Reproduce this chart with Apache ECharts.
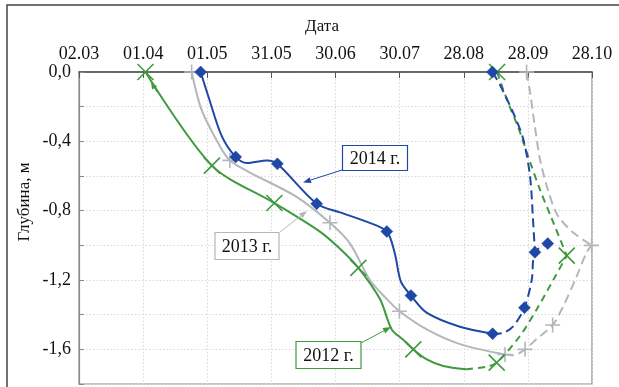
<!DOCTYPE html>
<html>
<head>
<meta charset="utf-8">
<script src="https://cdn.jsdelivr.net/npm/echarts@6/dist/echarts.min.js"></script>
<style>
  html, body { margin: 0; padding: 0; background: #fff; }
  #chart { width: 619px; height: 387px; }
</style>
</head>
<body>
<div id="chart"></div>
<script>
// X axis: days counted from 02.03, one tick every 30 days
const dateTicks = ['02.03', '01.04', '01.05', '31.05', '30.06', '30.07', '28.08', '28.09', '28.10'];
// Y axis labels for every 0.4 m
const depthTicks = ['0,0', '-0,4', '-0,8', '-1,2', '-1,6'];

// Each point: [day, depth (m), 1 = marked measurement / 0 = curve vertex]
const freeze2014 = [
  [56.9, 0, 1], [60.5, -0.14, 0], [66.8, -0.37, 0], [73.3, -0.49, 1],
  [78.5, -0.525, 0], [88.0, -0.51, 0], [92.8, -0.53, 1], [111.2, -0.76, 1],
  [122.1, -0.81, 0], [133.8, -0.86, 0], [144.0, -0.92, 1], [147.8, -1.05, 0],
  [150.6, -1.21, 0], [155.3, -1.29, 1], [162.8, -1.39, 0], [178.2, -1.47, 0],
  [193.5, -1.51, 1]
];
const thawLow2014 = [
  [193.5, -1.51, 0], [198.5, -1.505, 0], [203.2, -1.466, 0], [208.4, -1.36, 1],
  [211.8, -1.20, 0], [213.3, -1.04, 1], [219.3, -0.99, 1]
];
const thawTop2014 = [
  [193.4, 0, 1], [197.0, -0.075, 0], [204.0, -0.26, 0], [207.9, -0.39, 0],
  [211.0, -0.60, 0], [212.4, -0.85, 0], [213.3, -1.04, 0]
];

const freeze2013 = [
  [52.7, 0, 1], [57.4, -0.22, 0], [66.0, -0.43, 0], [70.6, -0.51, 1],
  [80.0, -0.58, 0], [101.8, -0.72, 0], [117.4, -0.87, 1], [126.8, -0.99, 0],
  [136.1, -1.20, 0], [144.0, -1.31, 0], [149.9, -1.38, 1], [162.7, -1.485, 0],
  [178.2, -1.57, 0], [199.3, -1.63, 1]
];
const thawLow2013 = [
  [199.3, -1.63, 0], [203.2, -1.634, 0], [208.7, -1.60, 1], [214.1, -1.54, 0],
  [221.6, -1.46, 1], [226.6, -1.35, 0], [232.8, -1.18, 0], [237.5, -1.04, 0],
  [239.8, -1.00, 1]
];
const thawTop2013 = [
  [209.4, 0, 1], [211.0, -0.115, 0], [213.3, -0.317, 0], [215.7, -0.506, 0],
  [219.4, -0.68, 0], [223.6, -0.82, 0], [230.6, -0.92, 0], [239.8, -1.00, 0]
];

const freeze2012 = [
  [31.1, 0, 1], [62.2, -0.54, 1], [91.4, -0.756, 1], [112.7, -0.921, 0],
  [122.1, -1.02, 0], [130.7, -1.13, 1], [140.8, -1.31, 0], [146.3, -1.485, 0],
  [151.7, -1.545, 0], [156.4, -1.60, 1], [162.7, -1.658, 0], [170.4, -1.696, 0],
  [181.1, -1.715, 0]
];
const thawLow2012 = [
  [181.1, -1.715, 0], [190.7, -1.70, 0], [195.4, -1.677, 1], [206.3, -1.523, 0],
  [214.1, -1.37, 0], [222.0, -1.197, 0], [228.2, -1.059, 1]
];
const thawTop2012 = [
  [195.6, 0, 1], [200.2, -0.16, 0], [205.4, -0.317, 0], [211.0, -0.518, 0],
  [215.7, -0.68, 0], [221.3, -0.85, 0], [228.2, -1.06, 0]
];

const SERIF = '"Liberation Serif", "Times New Roman", serif';
const COLORS = { 2012: '#3f9a3f', 2013: '#b3b7bb', 2014: '#1f47a6' };
const MARKERS = {
  2014: { symbol: 'diamond', size: 12 },
  2013: { symbol: 'path://M5,0L5,10M0,5L10,5', size: 15 },
  2012: { symbol: 'path://M0,0L10,10M10,0L0,10', size: 16 }
};
const DASHES = { 2012: [7, 5], 2013: [9, 5], 2014: [9, 5] };

function toData(points) {
  return points.map(p => p[2] ? { value: [p[0], p[1]] } : { value: [p[0], p[1]], symbol: 'none' });
}

function makeSeries(year, points, dashed, z) {
  const c = COLORS[year];
  return {
    type: 'line',
    name: year + (dashed ? ' thaw' : ' freeze'),
    data: toData(points),
    smooth: 0.3,
    symbol: MARKERS[year].symbol,
    symbolSize: MARKERS[year].size,
    showAllSymbol: true,
    clip: false,
    z: z,
    lineStyle: { color: c, width: 2, type: dashed ? DASHES[year] : 'solid' },
    itemStyle: { color: c, borderColor: c, borderWidth: year === 2014 ? 0.5 : 1.6 },
    emphasis: { disabled: true },
    silent: true
  };
}

function arrow(x1, y1, x2, y2, color, len, half) {
  len = len || 8; half = half || 3;
  const a = Math.atan2(y2 - y1, x2 - x1);
  const bx = x2 - len * Math.cos(a), by = y2 - len * Math.sin(a);
  const px = -Math.sin(a) * half, py = Math.cos(a) * half;
  return [
    { type: 'line', shape: { x1: x1, y1: y1, x2: bx, y2: by }, style: { stroke: color, lineWidth: 1 }, z: 100 },
    { type: 'polygon', shape: { points: [[x2, y2], [bx + px, by + py], [bx - px, by - py]] }, style: { fill: color }, z: 100 }
  ];
}

function labelBox(x, y, w, h, text, color) {
  return [
    { type: 'rect', shape: { x: x, y: y, width: w, height: h }, style: { fill: '#fff', stroke: color, lineWidth: 1.2 }, z: 101 },
    { type: 'text', x: x + w / 2, y: y + h / 2 + 1, z: 102,
      style: { text: text, font: '18px ' + SERIF, fill: '#111', align: 'center', verticalAlign: 'middle' } }
  ];
}

const chart = echarts.init(document.getElementById('chart'), null, { renderer: 'canvas' });

chart.setOption({
  animation: false,
  backgroundColor: '#fff',
  grid: { left: 79, right: 27, top: 72, bottom: 3, show: true, borderColor: '#8a8a8a', borderWidth: 1.2 },
  xAxis: {
    type: 'value', position: 'top', min: 0, max: 240, interval: 30,
    axisLine: { show: true, onZero: false, lineStyle: { color: '#4a4a4a', width: 1.5 } },
    axisTick: { show: true, inside: true, length: 6, lineStyle: { color: '#555' } },
    axisLabel: { margin: 9, color: '#111', fontFamily: SERIF, fontSize: 18,
      formatter: v => dateTicks[Math.round(v / 30)] || '' },
    splitLine: { show: true, lineStyle: { color: '#d8d8d8', type: [1.5, 2], width: 1 } }
  },
  yAxis: {
    type: 'value', min: -1.8, max: 0, interval: 0.2,
    axisLine: { show: true, onZero: false, lineStyle: { color: '#8a8a8a', width: 1.2 } },
    axisTick: { show: true, inside: true, length: 5, lineStyle: { color: '#888' } },
    axisLabel: { margin: 8, color: '#111', fontFamily: SERIF, fontSize: 18,
      formatter: v => { const k = Math.round(-v * 10); return k % 4 === 0 ? (depthTicks[k / 4] || '') : ''; } },
    splitLine: { show: true, lineStyle: { color: '#d8d8d8', type: [1.5, 2], width: 1 } }
  },
  series: [
    makeSeries(2013, freeze2013, false, 2),
    makeSeries(2013, thawLow2013, true, 2),
    makeSeries(2013, thawTop2013, true, 2),
    makeSeries(2012, freeze2012, false, 3),
    makeSeries(2012, thawLow2012, true, 3),
    makeSeries(2012, thawTop2012, true, 3),
    makeSeries(2014, freeze2014, false, 4),
    makeSeries(2014, thawLow2014, true, 4),
    makeSeries(2014, thawTop2014, true, 4)
  ],
  graphic: [
    { type: 'rect', shape: { x: 7, y: 5, width: 640, height: 420 }, style: { fill: 'none', stroke: '#444', lineWidth: 1.5 }, z: 100 },
    { type: 'text', x: 322, y: 27, z: 100,
      style: { text: 'Дата', font: '17px ' + SERIF, fill: '#111', align: 'center', verticalAlign: 'middle' } },
    { type: 'text', x: 25, y: 202, rotation: Math.PI / 2, z: 100,
      style: { text: 'Глубина, м', font: '17px ' + SERIF, fill: '#111', align: 'center', verticalAlign: 'middle' } },
    ...arrow(157, 92, 151, 82, COLORS[2012], 7, 3),
    ...arrow(342, 170, 303, 182.5, COLORS[2014]),
    ...arrow(280, 232, 307, 211, COLORS[2013]),
    ...arrow(361, 343, 391, 327, COLORS[2012]),
    ...labelBox(342.5, 145.5, 65, 25, '2014 г.', COLORS[2014]),
    ...labelBox(215, 232.5, 64, 27, '2013 г.', COLORS[2013]),
    ...labelBox(296, 341.5, 65, 27, '2012 г.', COLORS[2012])
  ]
});
</script>
</body>
</html>
